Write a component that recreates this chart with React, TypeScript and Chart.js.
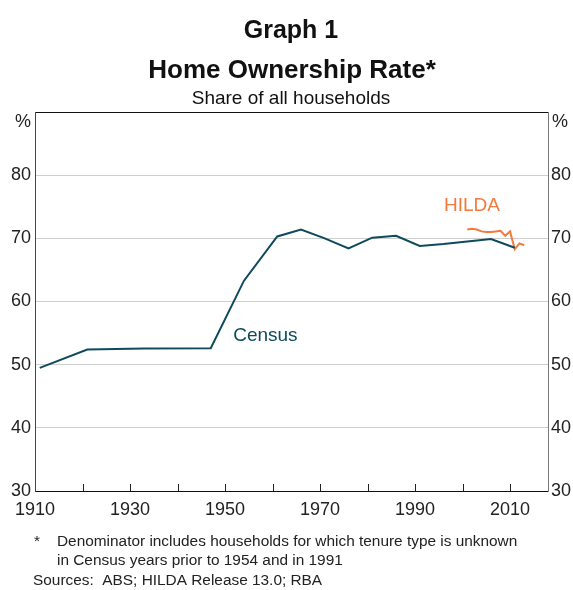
import React, { useEffect, useRef } from "react";
import { Chart, registerables } from "chart.js";

Chart.register(...registerables);

const censusYears = [1911, 1921, 1933, 1947, 1954, 1961, 1966, 1971, 1976, 1981, 1986, 1991, 1996, 2001, 2006, 2011];
const censusValues = [49.5, 52.4, 52.55, 52.6, 63.3, 70.3, 71.4, 70.0, 68.4, 70.1, 70.4, 68.8, 69.1, 69.5, 69.9, 68.5];

const hildaYears = [2001, 2002, 2003, 2004, 2005, 2006, 2007, 2008, 2009, 2010, 2011, 2012, 2013];
const hildaValues = [71.4, 71.5, 71.4, 71.1, 71.0, 71.0, 71.1, 71.2, 70.4, 71.1, 68.3, 69.2, 68.9];

const xTickYears = [1910, 1920, 1930, 1940, 1950, 1960, 1970, 1980, 1990, 2000, 2010];
const xLabelYears = [1910, 1930, 1950, 1970, 1990, 2010];

const titleLine1 = "Graph 1";
const titleLine2 = "Home Ownership Rate*";
const subtitle = "Share of all households";
const footnoteLines = [
  "Denominator includes households for which tenure type is unknown",
  "in Census years prior to 1954 and in 1991",
];
const sourcesText = "Sources:  ABS; HILDA Release 13.0; RBA";

const CENSUS_COLOR = "#0d4b5c";
const HILDA_COLOR = "#f47a3c";
const FONT = "'Liberation Sans', Arial, sans-serif";

const textPlugin = {
  id: "textPlugin",
  afterDraw(chart: any) {
    const ctx = chart.ctx;
    const xs = chart.scales.x;
    const ys = chart.scales.y;
    ctx.save();
    // inside tick marks
    ctx.strokeStyle = "#222";
    ctx.lineWidth = 1;
    const bottom = chart.chartArea.bottom;
    xTickYears.slice(1).forEach((yr) => {
      const px = Math.round(xs.getPixelForValue(yr)) + 0.5;
      ctx.beginPath();
      ctx.moveTo(px, bottom);
      ctx.lineTo(px, bottom - 7);
      ctx.stroke();
    });

    ctx.fillStyle = "#111";
    ctx.textAlign = "center";
    ctx.textBaseline = "middle";
    ctx.font = `bold 25px ${FONT}`;
    ctx.fillText(titleLine1, 291, 31);
    ctx.font = `bold 26px ${FONT}`;
    ctx.fillText(titleLine2, 292, 71);
    ctx.font = `19px ${FONT}`;
    ctx.fillText(subtitle, 291, 99);

    // percent signs
    ctx.font = `18px ${FONT}`;
    ctx.fillStyle = "#222";
    ctx.textAlign = "right";
    ctx.fillText("%", 31, 122);
    ctx.textAlign = "left";
    ctx.fillText("%", 552, 122);

    // series labels
    ctx.font = `19px ${FONT}`;
    ctx.textAlign = "center";
    ctx.fillStyle = CENSUS_COLOR;
    ctx.fillText("Census", xs.getPixelForValue(1958.5), ys.getPixelForValue(54.6));
    ctx.fillStyle = HILDA_COLOR;
    ctx.fillText("HILDA", xs.getPixelForValue(2002), ys.getPixelForValue(75.1));

    // footnotes
    ctx.fillStyle = "#222";
    ctx.font = `15.4px ${FONT}`;
    ctx.textAlign = "left";
    ctx.fillText("*", 34, 542);
    ctx.fillText(footnoteLines[0], 57, 542);
    ctx.fillText(footnoteLines[1], 57, 561);
    ctx.fillText(sourcesText, 33, 581);
    ctx.restore();
  },
};

export default function App() {
  const canvasRef = useRef<HTMLCanvasElement | null>(null);

  useEffect(() => {
    const canvas = canvasRef.current;
    if (!canvas) return;
    const chart = new Chart(canvas, {
      type: "line",
      data: {
        datasets: [
          {
            label: "Census",
            data: censusYears.map((x, i) => ({ x, y: censusValues[i] })),
            borderColor: CENSUS_COLOR,
            borderWidth: 2,
            pointRadius: 0,
            tension: 0,
            fill: false,
          },
          {
            label: "HILDA",
            data: hildaYears.map((x, i) => ({ x, y: hildaValues[i] })),
            borderColor: HILDA_COLOR,
            borderWidth: 2,
            pointRadius: 0,
            tension: 0,
            fill: false,
          },
        ],
      },
      options: {
        animation: false,
        responsive: false,
        devicePixelRatio: 1,
        layout: { padding: { top: 112, left: 0, right: 0, bottom: 0 } },
        plugins: { legend: { display: false }, tooltip: { enabled: false }, title: { display: false } },
        scales: {
          x: {
            type: "linear",
            min: 1910,
            max: 2018,
            afterBuildTicks: (s: any) => {
              s.ticks = xTickYears.map((v) => ({ value: v }));
            },
            afterFit: (s: any) => {
              s.height = 99;
            },
            grid: { display: false, drawTicks: false },
            border: { display: true, color: "#111", width: 1 },
            ticks: {
              autoSkip: false,
              maxRotation: 0,
              padding: 8,
              color: "#222",
              font: { family: FONT, size: 18 },
              callback: (v: any) => (xLabelYears.includes(Number(v)) ? String(v) : ""),
            },
          },
          y: {
            type: "linear",
            position: "left",
            min: 30,
            max: 90,
            afterFit: (s: any) => {
              s.width = 35;
            },
            grid: {
              drawTicks: false,
              color: (c: any) => (c.tick && c.tick.value === 90 ? "#111" : c.tick && c.tick.value === 30 ? "rgba(0,0,0,0)" : "#cfcfcf"),
              lineWidth: 1,
            },
            border: { display: true, color: "#444", width: 1 },
            ticks: {
              stepSize: 10,
              padding: 4,
              color: "#222",
              font: { family: FONT, size: 18 },
              callback: (v: any) => (Number(v) === 90 ? "" : String(v)),
            },
          },
          y2: {
            type: "linear",
            position: "right",
            min: 30,
            max: 90,
            afterFit: (s: any) => {
              s.width = 25;
            },
            grid: { display: false, drawTicks: false },
            border: { display: true, color: "#777", width: 1 },
            ticks: {
              stepSize: 10,
              padding: 3,
              color: "#222",
              font: { family: FONT, size: 18 },
              callback: (v: any) => (Number(v) === 90 ? "" : String(v)),
            },
          },
        },
      },
      plugins: [textPlugin],
    });
    return () => chart.destroy();
  }, []);

  return (
    <div style={{ position: "absolute", left: 0, top: 0, width: 573, height: 590, background: "#fff" }}>
      <canvas ref={canvasRef} width={573} height={590} style={{ display: "block", width: 573, height: 590 }} />
    </div>
  );
}
